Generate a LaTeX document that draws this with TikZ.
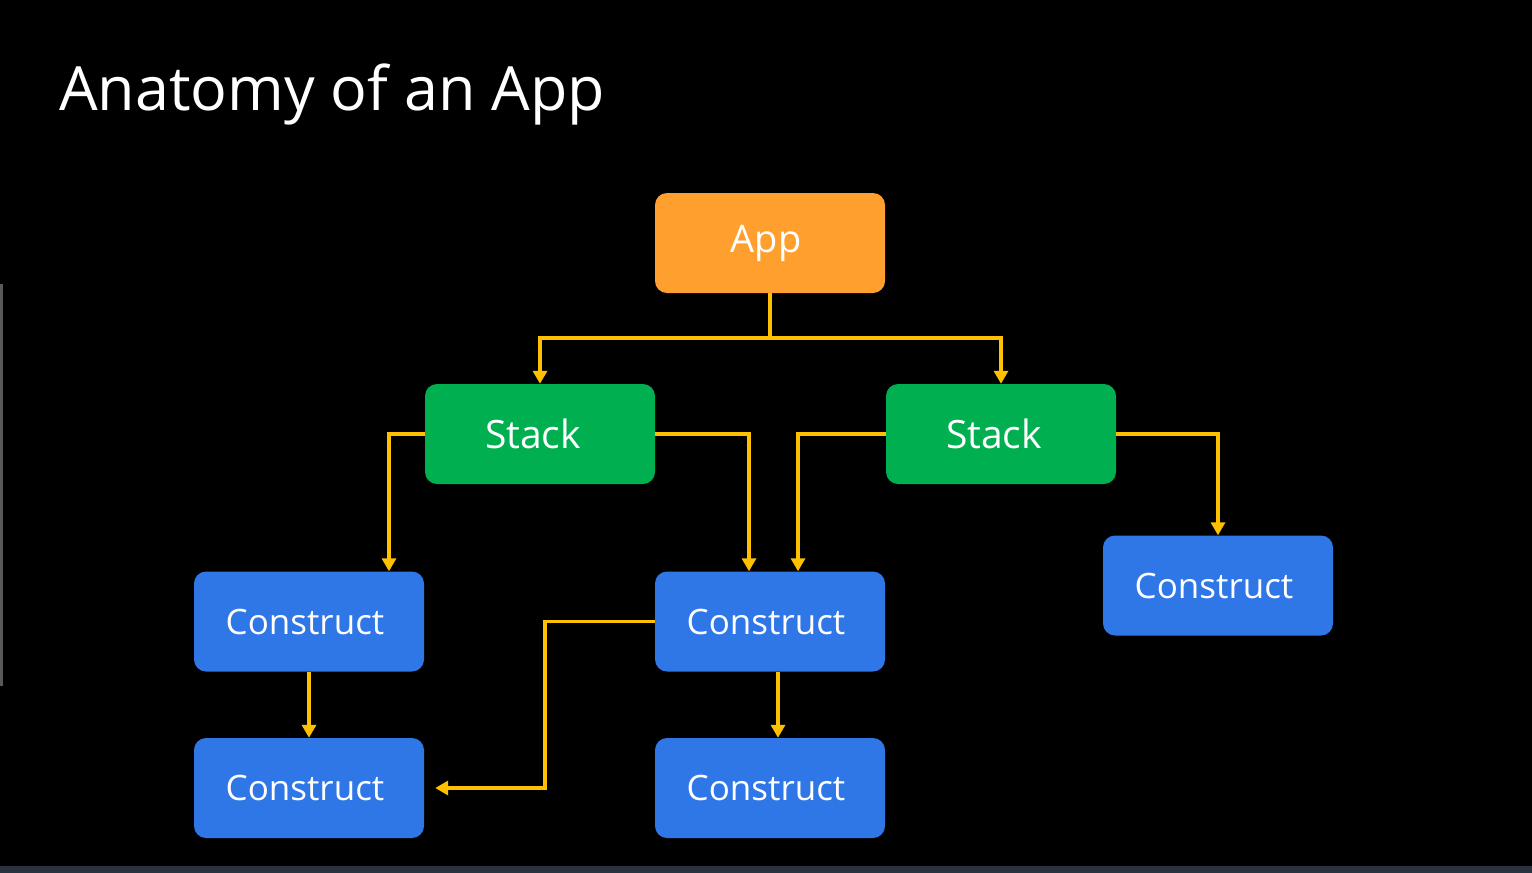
\documentclass[tikz,border=0pt]{standalone}
\usepackage{fontspec}
\setmainfont{Open Sans}
\usetikzlibrary{arrows.meta}
\definecolor{apporange}{HTML}{FF9F2E}
\definecolor{stackgreen}{HTML}{00B050}
\definecolor{constblue}{HTML}{2F76E6}
\definecolor{linkyellow}{HTML}{FFC000}
\definecolor{stripgrey}{HTML}{2A3240}
\tikzset{
  box/.style={rounded corners=12pt, minimum width=230pt, minimum height=100pt,
    inner sep=0pt, text=white},
  appbox/.style={box, fill=apporange, font=\fontsize{38}{44}\selectfont},
  stackbox/.style={box, fill=stackgreen, font=\fontsize{39}{44}\selectfont},
  constbox/.style={box, fill=constblue, font=\fontsize{35}{42}\selectfont},
  conn/.style={draw=linkyellow, line width=3.6pt,
    -{Triangle[width=14pt,length=13pt]}},
  joint/.style={draw=linkyellow, line width=3.6pt}
}
\begin{document}
\begin{tikzpicture}[x=1pt,y=-1pt]
  % canvas
  \fill[black] (0,0) rectangle (1532,873);
  \useasboundingbox (0,0) rectangle (1532,873);
  \fill[stripgrey] (0,866) rectangle (1532,873);
  \fill[black!65!white] (0,284) rectangle (2.5,686);

  % heading
  \node[anchor=base west, text=white, inner sep=0pt,
        font=\fontsize{61}{70}\selectfont] (title) at (59,110) {Anatomy of an App};

  % nodes
  \node[appbox]   (app)    at (770,243) {\hspace*{-8pt}App};
  \node[stackbox] (stackL) at (540,434) {\hspace*{-14pt}Stack};
  \node[stackbox] (stackR) at (1001,434) {\hspace*{-14pt}Stack};
  \node[constbox] (cA) at (309,621.5) {\hspace*{-8pt}Construct};
  \node[constbox] (cB) at (770,621.5) {\hspace*{-8pt}Construct};
  \node[constbox] (cC) at (1218,585.5) {\hspace*{-8pt}Construct};
  \node[constbox] (cD) at (309,788) {\hspace*{-8pt}Construct};
  \node[constbox] (cE) at (770,788) {\hspace*{-8pt}Construct};

  % app to stacks
  \coordinate (fork) at ([yshift=-45pt]app.south);
  \draw[joint] (app.south) -- (fork);
  \draw[conn] (fork) -| (stackL.north);
  \draw[conn] (fork) -| (stackR.north);

  % stacks to constructs
  \draw[conn] (stackL.west) -| ([xshift=80pt]cA.north);
  \draw[conn] (stackL.east) -| ([xshift=-21pt]cB.north);
  \draw[conn] (stackR.west) -| ([xshift=28pt]cB.north);
  \draw[conn] (stackR.east) -| (cC.north);

  % constructs to constructs
  \draw[conn] (cA.south) -- (cD.north);
  \draw[conn] ([xshift=8pt]cB.south) -- ([xshift=8pt]cE.north);
  \draw[conn, shorten >=11pt] (cB.west) -- ++(-110,0) |- (cD.east);
\end{tikzpicture}
\end{document}
